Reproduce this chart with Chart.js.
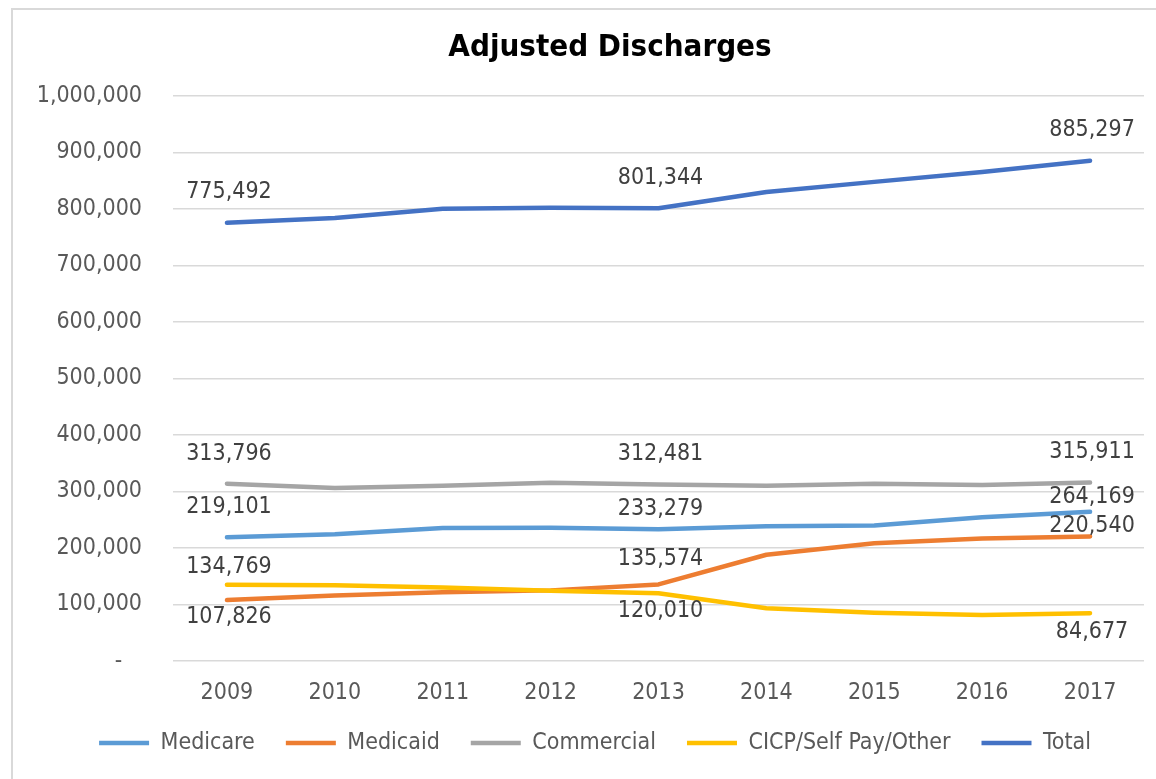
<!DOCTYPE html>
<html>
<head>
<meta charset="utf-8">
<title>Adjusted Discharges</title>
<script src="https://cdn.jsdelivr.net/npm/chart.js@4.4.1/dist/chart.umd.min.js"></script>
<style>
  html, body { margin: 0; padding: 0; background: #fff; overflow: hidden; }
  #frame { position: absolute; left: 11px; top: 8px; width: 1200px; height: 800px;
           border-left: 2px solid #d9d9d9; border-top: 2px solid #d9d9d9; }
  #revenueChart { position: absolute; left: 0; top: 0; }
</style>
</head>
<body>
<div id="frame"></div>
<canvas id="revenueChart" width="1156" height="779"></canvas>
<script>
// Số liệu
const chartTitle = 'Adjusted Discharges';
const years = ['2009', '2010', '2011', '2012', '2013', '2014', '2015', '2016', '2017'];
const medicare   = [219101, 224500, 235500, 236000, 233279, 238500, 240000, 254500, 264169];
const medicaid   = [107826, 116000, 121500, 125000, 135574, 188000, 208500, 217000, 220540];
const commercial = [313796, 306000, 310000, 315500, 312481, 310000, 313500, 311500, 315911];
const cicp       = [134769, 134000, 130000, 124500, 120010,  93500,  85500,  81500,  84677];
const total      = [775492, 784000, 800500, 802000, 801344, 830000, 848000, 865500, 885297];
const yTicks = [0, 100000, 200000, 300000, 400000, 500000, 600000, 700000, 800000, 900000, 1000000];
// các điểm có nhãn số
const labelIdx = [0, 4, 8];

const fontFamily = '"DejaVu Sans Condensed", "DejaVu Sans", sans-serif';

function fmt(v) {
    return v === 0 ? '-   ' : v.toLocaleString('en-US');
}

// Tiêu đề
const titlePlugin = {
    id: 'chartTitle',
    afterDraw(chart) {
        const ctx = chart.ctx;
        ctx.save();
        ctx.font = 'bold 31px ' + fontFamily;
        ctx.fillStyle = '#000000';
        ctx.textAlign = 'center';
        ctx.textBaseline = 'middle';
        ctx.fillText(chartTitle, 610, 48);
        ctx.restore();
    }
};

// Nhãn giá trị trên các điểm
const labelPlugin = {
    id: 'pointLabels',
    afterDatasetsDraw(chart) {
        const ctx = chart.ctx;
        ctx.save();
        ctx.font = '23px ' + fontFamily;
        ctx.fillStyle = '#404040';
        ctx.textAlign = 'center';
        ctx.textBaseline = 'middle';
        chart.data.datasets.forEach((ds, i) => {
            const meta = chart.getDatasetMeta(i);
            labelIdx.forEach((j, k) => {
                const pt = meta.data[j];
                ctx.fillText(fmt(ds.data[j]), pt.x + 2, pt.y + ds.labelDy[k]);
            });
        });
        ctx.restore();
    }
};

function series(label, data, color, order, labelDy) {
    return {
        label: label,
        data: data,
        borderColor: color,
        backgroundColor: color,
        borderWidth: 4.5,
        borderCapStyle: 'round',
        borderJoinStyle: 'round',
        pointRadius: 0,
        tension: 0,
        order: order,
        labelDy: labelDy
    };
}

// không cắt nhãn trục theo khung của trục
function noLabelClip(scale) {
    scale._computeLabelArea = () => undefined;
}

Chart.defaults.font.family = fontFamily;

const ctx = document.getElementById('revenueChart');
new Chart(ctx, {
    type: 'line',
    data: {
        labels: years,
        datasets: [
            series('Medicare', medicare, '#5B9BD5', 5, [-30, -20, -15]),
            series('Medicaid', medicaid, '#ED7D31', 4, [17, -25, -10]),
            series('Commercial', commercial, '#A5A5A5', 3, [-30, -30, -30]),
            series('CICP/Self Pay/Other', cicp, '#FFC000', 2, [-18, 18, 19]),
            series('Total', total, '#4472C4', 1, [-31, -30, -31])
        ]
    },
    options: {
        responsive: false,
        animation: false,
        layout: { padding: { left: 46, right: 12, top: 96, bottom: 14.5 } },
        plugins: {
            title: { display: false },
            tooltip: { enabled: false },
            legend: {
                position: 'bottom',
                labels: {
                    usePointStyle: true,
                    pointStyle: 'line',
                    pointStyleWidth: 50,
                    padding: 31,
                    color: '#595959',
                    font: { size: 23 },
                    sort: (a, b) => a.datasetIndex - b.datasetIndex
                }
            }
        },
        scales: {
            x: {
                offset: true,
                grid: { display: false },
                border: { display: false },
                ticks: { color: '#595959', font: { size: 23 }, padding: 10 },
                afterFit(scale) { scale.height = 39.5; noLabelClip(scale); }
            },
            y: {
                min: 0,
                max: 1000000,
                afterBuildTicks(scale) { scale.ticks = yTicks.map(v => ({ value: v })); },
                grid: { color: '#D9D9D9', lineWidth: 1.5, drawTicks: false },
                border: { display: false },
                ticks: {
                    color: '#595959',
                    font: { size: 23 },
                    padding: 31,
                    callback: v => fmt(v)
                },
                afterFit(scale) { scale.width = 127; noLabelClip(scale); }
            }
        }
    },
    plugins: [titlePlugin, labelPlugin]
});
</script>
</body>
</html>
